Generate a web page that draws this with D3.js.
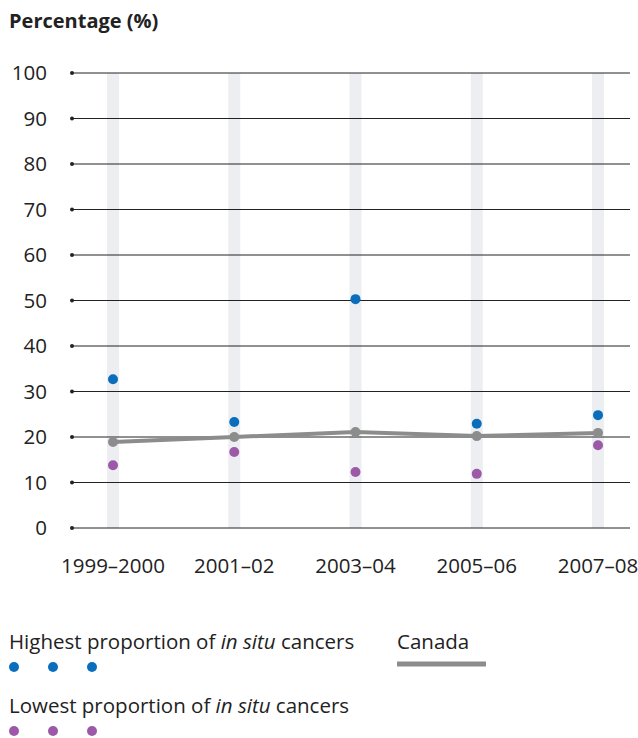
<!DOCTYPE html>
<html lang="en">
<head>
<meta charset="UTF-8">
<script src="https://d3js.org/d3.v7.min.js"></script>
<style>
  body { margin: 0; background: #fff; font-family: "Open Sans", "Noto Sans", sans-serif; }
  text { fill: #222; }
</style>
</head>
<body>
<script>
  // Data
  const periods = ["1999–2000", "2001–02", "2003–04", "2005–06", "2007–08"];
  const highest = [32.7, 23.3, 50.3, 22.9, 24.8];
  const lowest = [13.8, 16.7, 12.3, 11.9, 18.2];
  const canada = [18.9, 20.0, 21.1, 20.2, 20.9];
  const yTicks = [0, 10, 20, 30, 40, 50, 60, 70, 80, 90, 100];

  const width = 638, height = 738;
  const blue = "#0a6ebd", purple = "#9b59a8", grey = "#8c8c8c";
  const fs = 20.5;

  const svg = d3.select("body").append("svg")
    .attr("width", width).attr("height", height);

  const x = d3.scalePoint().domain(periods).range([113, 598]);
  const y = d3.scaleLinear().domain([0, 100]).range([528, 73]);

  // Title
  svg.append("text").attr("x", 9).attr("y", 28)
    .attr("font-weight", "bold").attr("font-size", 20).text("Percentage (%)");

  // Vertical pale bands
  svg.selectAll("rect.band").data(periods).enter().append("rect")
    .attr("x", d => x(d) - 6).attr("width", 12)
    .attr("y", y(100)).attr("height", y(0) - y(100))
    .attr("fill", "#eceef1");

  // Gridlines
  svg.selectAll("line.grid").data(yTicks).enter().append("line")
    .attr("x1", 72).attr("x2", 630)
    .attr("y1", d => y(d)).attr("y2", d => y(d))
    .attr("stroke", "#222").attr("stroke-width", 1);

  svg.selectAll("circle.tick").data(yTicks).enter().append("circle")
    .attr("cx", 72).attr("cy", d => y(d)).attr("r", 2).attr("fill", "#222");

  svg.selectAll("text.ylab").data(yTicks).enter().append("text")
    .attr("x", 47).attr("y", d => y(d) + 7)
    .attr("text-anchor", "end").attr("font-size", fs).text(d => d);

  svg.selectAll("text.xlab").data(periods).enter().append("text")
    .attr("x", d => x(d)).attr("y", 573)
    .attr("text-anchor", "middle").attr("font-size", fs).text(d => d);

  // Canada line
  svg.append("path").datum(canada)
    .attr("d", d3.line().x((d, i) => x(periods[i])).y(d => y(d)))
    .attr("fill", "none").attr("stroke", grey).attr("stroke-width", 4);
  svg.selectAll("circle.can").data(canada).enter().append("circle")
    .attr("cx", (d, i) => x(periods[i])).attr("cy", d => y(d)).attr("r", 5).attr("fill", grey);

  svg.selectAll("circle.hi").data(highest).enter().append("circle")
    .attr("cx", (d, i) => x(periods[i])).attr("cy", d => y(d)).attr("r", 5).attr("fill", blue);
  svg.selectAll("circle.lo").data(lowest).enter().append("circle")
    .attr("cx", (d, i) => x(periods[i])).attr("cy", d => y(d)).attr("r", 5).attr("fill", purple);

  // Legend
  const leg1 = svg.append("text").attr("x", 9).attr("y", 649).attr("font-size", fs);
  leg1.append("tspan").text("Highest proportion of ");
  leg1.append("tspan").attr("font-style", "italic").text("in situ");
  leg1.append("tspan").text(" cancers");
  svg.selectAll("circle.l1").data([14, 53, 92]).enter().append("circle")
    .attr("cx", d => d).attr("cy", 667).attr("r", 5).attr("fill", blue);

  const leg2 = svg.append("text").attr("x", 9).attr("y", 713).attr("font-size", fs);
  leg2.append("tspan").text("Lowest proportion of ");
  leg2.append("tspan").attr("font-style", "italic").text("in situ");
  leg2.append("tspan").text(" cancers");
  svg.selectAll("circle.l2").data([14, 53, 92]).enter().append("circle")
    .attr("cx", d => d).attr("cy", 731).attr("r", 5).attr("fill", purple);

  svg.append("text").attr("x", 397).attr("y", 649).attr("font-size", fs).text("Canada");
  svg.append("line").attr("x1", 397).attr("x2", 486).attr("y1", 664).attr("y2", 664)
    .attr("stroke", grey).attr("stroke-width", 5);
</script>
</body>
</html>
